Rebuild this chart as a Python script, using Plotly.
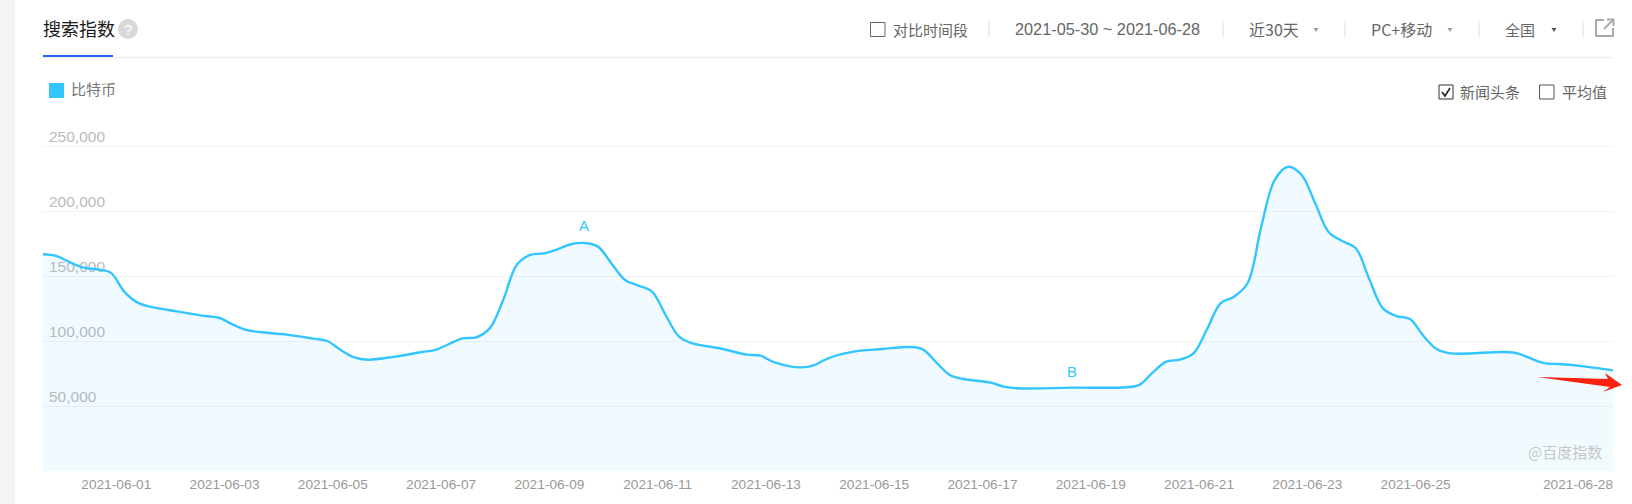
import pandas as pd
import plotly.graph_objects as go

# Curve: position in days after the start date, and height in thousands
curve_days = [0, 0.25, 0.5, 0.75, 1, 1.25, 1.5, 1.75, 2, 2.5, 3, 3.25, 3.5, 3.75, 4, 4.5, 5, 5.25, 5.5, 5.75,
              6, 6.5, 7, 7.25, 7.5, 7.75, 8, 8.25, 8.5, 8.75, 9, 9.25, 9.5, 9.75, 10, 10.25, 10.5, 10.75,
              11, 11.25, 11.5, 11.75, 12, 12.5, 13, 13.25, 13.5, 14, 14.25, 14.5, 15, 15.5, 16, 16.25,
              16.5, 16.75, 17, 17.5, 17.75, 18, 19, 20, 20.25, 20.5, 20.75, 21, 21.25, 21.5, 21.75, 22,
              22.25, 22.5, 22.75, 23, 23.25, 23.5, 23.75, 24, 24.25, 24.5, 24.75, 25, 25.25, 25.5, 25.75,
              26, 27, 27.25, 27.5, 27.75, 28, 28.5, 29]
curve_thousands = [166.7, 165.4, 160.5, 156.4, 155.1, 152.6, 138.0, 129.5, 126.2, 122.6, 119.2, 117.9, 112.8,
                   108.5, 106.9, 104.9, 101.8, 100.0, 93.1, 87.4,
                   85.6, 88.0, 91.5, 93.1, 97.7, 102.0, 102.8, 109.7, 131.5, 158.5, 166.2, 167.4, 170.5, 174.4,
                   175.4, 172.6, 159.7, 146.9,
                   142.6, 138.0, 120.0, 103.3, 98.2, 94.4, 89.5, 88.7, 83.8, 79.7, 81.5, 86.7, 92.0, 93.8, 95.4, 93.6,
                   83.6, 73.8, 70.8, 68.0, 64.9, 63.6, 64.1, 64.4, 66.2, 75.9, 84.1, 85.7, 90.5, 109.0, 129.0, 134.1,
                   144.4, 187.4, 223.8, 234.0, 227.7, 205.9, 183.6, 176.9, 171.3, 147.4, 125.1, 119.2, 116.9, 103.8,
                   93.6,
                   90.5, 91.5, 90.3, 86.2, 82.8, 82.3, 80.3, 77.4]
start_date = "2021-05-30"
end_date = "2021-06-28"
x_ticks = ["2021-06-01", "2021-06-03", "2021-06-05", "2021-06-07", "2021-06-09", "2021-06-11",
           "2021-06-13", "2021-06-15", "2021-06-17", "2021-06-19", "2021-06-21", "2021-06-23",
           "2021-06-25", "2021-06-28"]
y_ticks = [50000, 100000, 150000, 200000, 250000]
y_labels = ["50,000", "100,000", "150,000", "200,000", "250,000"]
series_name = "比特币"
news_marks = [("A", "2021-06-09", 175400), ("B", "2021-06-18", 63600)]

times = [pd.Timestamp(start_date) + pd.Timedelta(days=d) for d in curve_days]
values = [v * 1000 for v in curve_thousands]

CJK = "Noto Sans CJK SC, Liberation Sans, Arial"
LAT = "Liberation Sans, Arial"
L, R, T, B = 43, 1613, 126, 471
W, H = R - L, B - T
Y_TOP = 250000 * H / 325


def px(x):
    return (x - L) / W


def py(y):
    return 1 - (y - T) / H


fig = go.Figure(go.Scatter(
    x=times, y=values, mode="lines", name=series_name,
    line=dict(color="#33c5ff", width=2.4, shape="spline", smoothing=1.0),
    fill="tozeroy", fillcolor="rgba(51,197,255,0.07)", hoverinfo="skip",
))

shapes = []
annots = []


def rect(x0, y0, x1, y1, fill=None, line=None, lw=1):
    shapes.append(dict(type="rect", xref="paper", yref="paper", x0=px(x0), x1=px(x1),
                       y0=py(y0), y1=py(y1), fillcolor=fill or "rgba(0,0,0,0)",
                       line=dict(color=line or "rgba(0,0,0,0)", width=lw if line else 0), layer="above"))


def seg(x0, y0, x1, y1, color, lw=1):
    shapes.append(dict(type="line", xref="paper", yref="paper", x0=px(x0), x1=px(x1),
                       y0=py(y0), y1=py(y1), line=dict(color=color, width=lw), layer="above"))


def path(points, fill=None, line=None, lw=1):
    d = "M " + " L ".join(f"{px(a):.5f},{py(b):.5f}" for a, b in points)
    if fill:
        d += " Z"
    shapes.append(dict(type="path", xref="paper", yref="paper", path=d,
                       fillcolor=fill or "rgba(0,0,0,0)",
                       line=dict(color=line or "rgba(0,0,0,0)", width=lw if line else 0), layer="above"))


def text(x, y, s, size=15, color="#666666", anchor="left", font=CJK):
    annots.append(dict(xref="paper", yref="paper", x=px(x), y=py(y), text=s, showarrow=False,
                       xanchor=anchor, yanchor="middle", borderpad=0, borderwidth=0,
                       font=dict(family=font, size=size, color=color)))


# page chrome
rect(0, 0, 15, 504, fill="#f4f4f4")
seg(43, 57.5, 1613, 57.5, "#efefef", 1.5)
rect(43, 55, 113, 57, fill="#2468f2")
text(43, 28, "搜索指数", size=18, color="#1a1a1a")
shapes.append(dict(type="circle", xref="paper", yref="paper", x0=px(118), x1=px(138), y0=py(19), y1=py(39),
                   fillcolor="#d9d9d9", line=dict(width=0), layer="above"))
text(128, 29, "?", size=15, color="#ffffff", anchor="center", font=LAT)

rect(870.5, 22.5, 885, 36.5, line="#666666")
text(893, 29, "对比时间段")
text(1015, 29, "2021-05-30 ~ 2021-06-28", size=16.3, font=LAT)
text(1248.5, 29, "近30天", size=16)
text(1371, 29, "PC+移动", size=16)
text(1505, 29, "全国")
for sx in (989, 1223, 1345, 1479, 1583):
    seg(sx, 21, sx, 37, "#dddddd")
path([(1313.5, 28), (1318.5, 28), (1316, 32)], fill="#999999")
path([(1447.5, 28), (1452.5, 28), (1450, 32)], fill="#999999")
path([(1551.5, 28), (1556.5, 28), (1554, 32)], fill="#555555")
path([(1604, 20), (1596, 20), (1596, 36), (1613, 36), (1613, 28)], line="#aaaaaa", lw=2)
path([(1604, 29), (1613, 20)], line="#aaaaaa", lw=2)
path([(1607, 19.5), (1613.5, 19.5), (1613.5, 26)], line="#aaaaaa", lw=2)

rect(49, 83, 64, 98, fill="#33c5ff")
text(71, 88, series_name, color="#777777")

rect(1439, 85, 1453, 99, line="#333333")
path([(1442, 92), (1445, 96), (1450, 88)], line="#222222", lw=1.6)
text(1460, 91, "新闻头条")
rect(1539.5, 85, 1554, 99, line="#555555")
text(1562, 91, "平均值")

text(1528, 451, "@百度指数", color="#c6c6c6")

# red arrow drawn over the screenshot
path([(1537, 377), (1608, 379), (1605, 373), (1622, 385), (1603, 392), (1610, 387)], fill="#ff2010")

# news markers
for label, d, v in news_marks:
    annots.append(dict(x=d, y=v, xref="x", yref="y", text=label, showarrow=False, yshift=17,
                       font=dict(family=LAT, size=15, color="#33c5ff")))

fig.update_layout(
    width=1632, height=504, margin=dict(l=L, r=1632 - R, t=T, b=504 - B),
    paper_bgcolor="#ffffff", plot_bgcolor="#ffffff", showlegend=False,
    shapes=shapes, annotations=annots,
    xaxis=dict(type="date", range=[start_date, end_date], tickmode="array",
               tickvals=x_ticks, ticktext=x_ticks, showgrid=False, zeroline=False, showline=False,
               ticks="", ticklabelshift=-35, ticklabelstandoff=3,
               tickfont=dict(family=LAT, size=13.7, color="#999999")),
    yaxis=dict(range=[0, Y_TOP], tickmode="array", tickvals=y_ticks, ticktext=y_labels,
               gridcolor="#f2f3f5", gridwidth=1.3, zeroline=False, showline=False, ticks="",
               ticklabelposition="inside", ticklabelshift=-9, ticklabelstandoff=3,
               layer="below traces",
               tickfont=dict(family=LAT, size=15.5, color="#bbbbbb")),
)

fig.write_html("out.html", config=dict(displayModeBar=False),
               post_script="document.body.style.margin='0';document.body.style.overflow='hidden';")
